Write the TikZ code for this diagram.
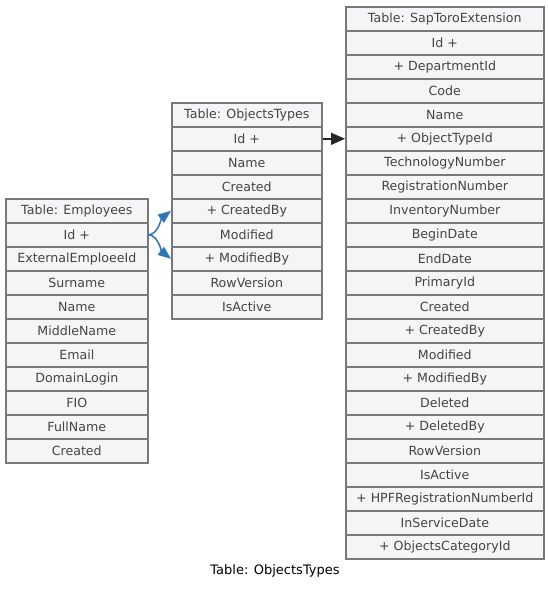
\documentclass[tikz,border=0pt]{standalone}
\usepackage{fontspec}
\setmainfont{DejaVu Sans}
\usetikzlibrary{arrows.meta}
\definecolor{rowfill}{HTML}{F5F5F8}
\definecolor{rowline}{HTML}{787878}
\definecolor{txt}{HTML}{444444}
\definecolor{linkblue}{HTML}{2E75B6}
\tikzset{
  cell/.style={draw=rowline, line width=1.6pt, fill=rowfill, text=txt,
    minimum height=24pt, inner sep=0pt, font=\fontsize{12.6}{15}\selectfont, anchor=north west},
  fk/.style={draw=linkblue, line width=1.5pt, -{Triangle[length=13pt,width=10pt,fill=linkblue]}},
  ref/.style={draw=black!85, line width=1.5pt, -{Triangle[length=14pt,width=12pt]}},
  caption/.style={font=\fontsize{13}{15}\selectfont, text=black}
}
\begin{document}
\begin{tikzpicture}[x=1pt,y=-1pt]
\useasboundingbox (0,0) rectangle (548,589);
\foreach \t [count=\i from 0] in {Table: Employees, Id +, ExternalEmploeeId, Surname, Name, MiddleName, Email, DomainLogin, FIO, FullName, Created} {
  \node[cell, minimum width=142pt] (emp\i) at (5, {198+24*\i}) {\t};
}
\foreach \t [count=\i from 0] in {Table: ObjectsTypes, Id +, Name, Created, + CreatedBy, Modified, + ModifiedBy, RowVersion, IsActive} {
  \node[cell, minimum width=150pt] (ot\i) at (171, {102+24*\i}) {\t};
}
\foreach \t [count=\i from 0] in {Table: SapToroExtension, Id +, + DepartmentId, Code, Name, + ObjectTypeId, TechnologyNumber, RegistrationNumber, InventoryNumber, BeginDate, EndDate, PrimaryId, Created, + CreatedBy, Modified, + ModifiedBy, Deleted, + DeletedBy, RowVersion, IsActive, + HPFRegistrationNumberId, InServiceDate, + ObjectsCategoryId} {
  \node[cell, minimum width=198pt] (sap\i) at (345, {6+24*\i}) {\t};
}
\draw[ref] (ot1.east) -- (sap5.west);
\draw[fk] (emp1.east) .. controls +(9,0) and +(-9,7) .. (ot4.west);
\draw[fk] (emp1.east) .. controls +(9,0) and +(-9,-7) .. (ot6.west);
\node[caption] (cap) at (275,571) {Table: ObjectsTypes};
\end{tikzpicture}
\end{document}
